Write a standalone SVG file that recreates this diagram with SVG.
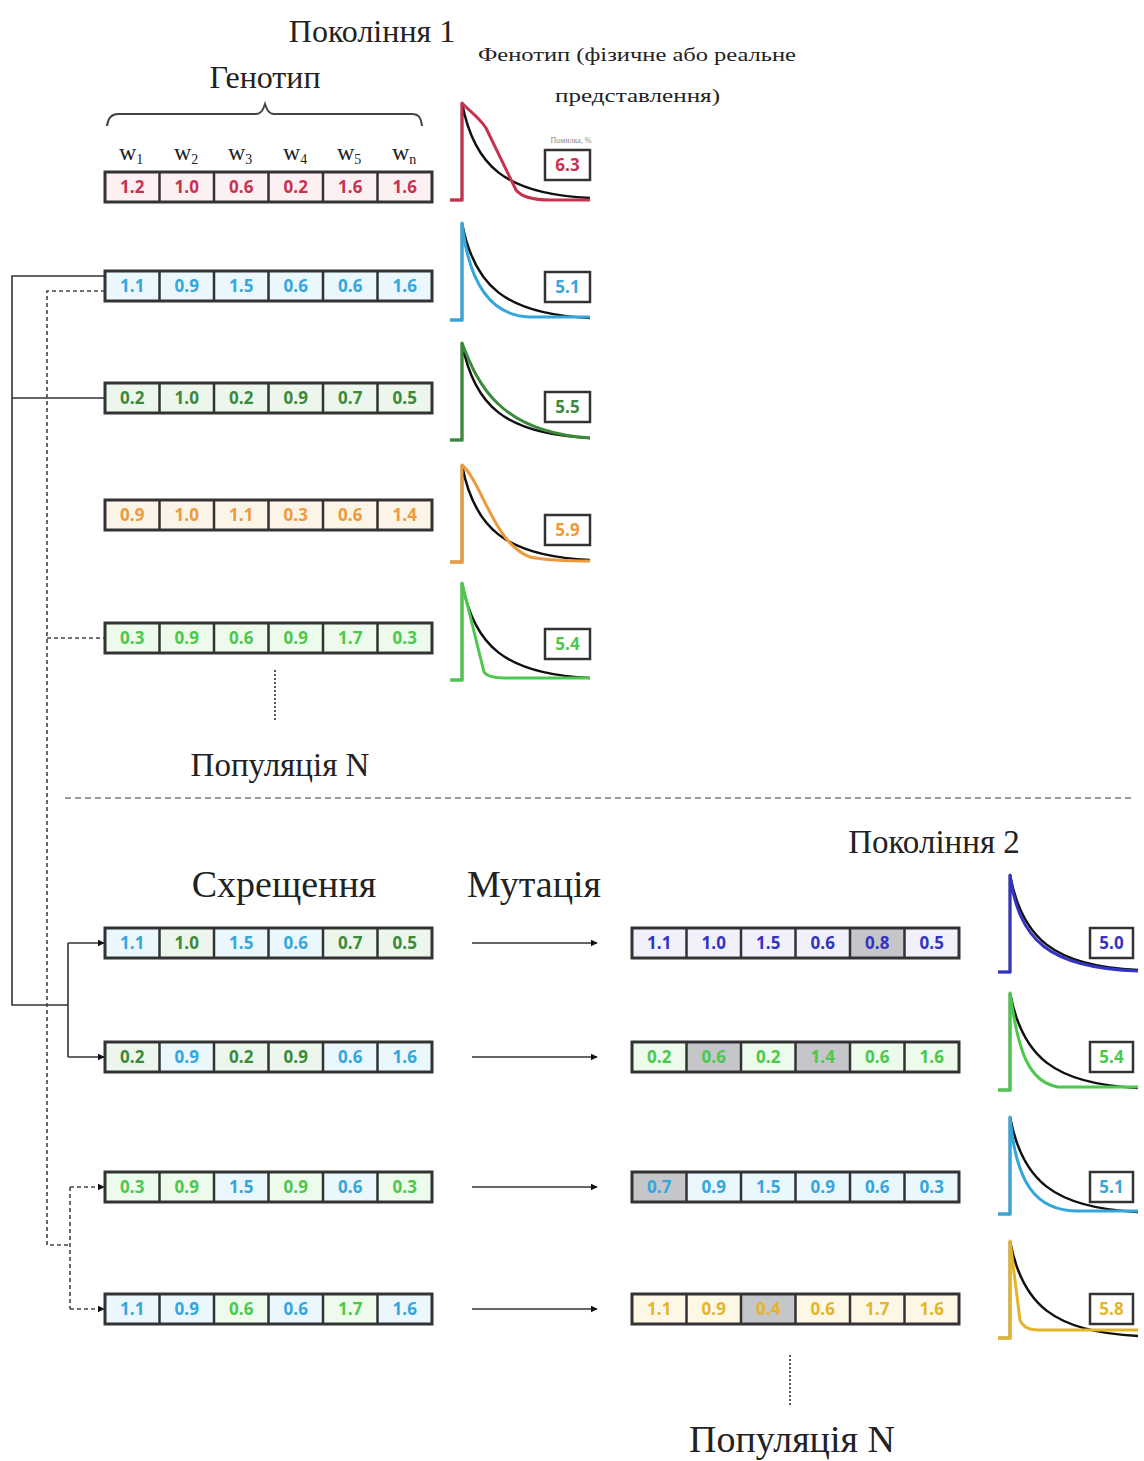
<svg xmlns="http://www.w3.org/2000/svg" xmlns:xlink="http://www.w3.org/1999/xlink" width="1144" height="1461" viewBox="0 0 1144 1461">
<style>
.h{font-family:"Liberation Serif","DejaVu Serif",serif;fill:#222}
.v{font-family:"Open Sans","Liberation Sans",sans-serif;font-weight:700;font-size:17px;text-anchor:middle}
.red{fill:#c8324f}.bred{fill:#fdf0f2}
.blu{fill:#35a6dc}.bblu{fill:#eaf7fd}
.dg{fill:#3b8a3b}.bdg{fill:#edf6ec}
.or{fill:#ec9a3c}.bor{fill:#fdf4e8}
.lg{fill:#4cc84c}.blg{fill:#edfbed}
.nv{fill:#3434c0}.bnv{fill:#f1f1fc}
.gd{fill:#e4b42a}.bgd{fill:#fdf8e6}
.mut{fill:#c4c6c9}
.fr{fill:none;stroke:#333;stroke-width:3}
.dv{fill:none;stroke:#333;stroke-width:2.5}
.eb{fill:#fff;stroke:#333;stroke-width:2.5}
.ref{fill:none;stroke:#111;stroke-width:2.5}
.cv{fill:none;stroke-width:3;stroke-linejoin:round}
.sol{fill:none;stroke:#333;stroke-width:1.6}
.dsh{fill:none;stroke:#444;stroke-width:1.6;stroke-dasharray:4 3}
.dot{fill:none;stroke:#555;stroke-width:2;stroke-dasharray:2 2}
</style>
<defs>
<g id="frame"><rect class="fr" x="0" y="0" width="327" height="30"/><path class="dv" d="M54.5,0V30M109,0V30M163.5,0V30M218,0V30M272.5,0V30"/></g>
<path id="refc" class="ref" d="M0,0H12V-97C24,-34 55,-6 140,-2"/>
<marker id="ah" viewBox="0 0 10 10" refX="9" refY="5" markerWidth="7" markerHeight="7" orient="auto" markerUnits="userSpaceOnUse"><path d="M0,0L10,5L0,10z" fill="#111"/></marker>
</defs>

<!-- headings -->
<text class="h" x="372" y="42" font-size="32" text-anchor="middle">Покоління 1</text>
<text class="h" x="478" y="61" font-size="18" textLength="318" lengthAdjust="spacingAndGlyphs">Фенотип (фізичне або реальне</text>
<text class="h" x="555" y="102" font-size="18" textLength="165" lengthAdjust="spacingAndGlyphs">представлення)</text>
<text class="h" x="265" y="88" font-size="32" text-anchor="middle">Генотип</text>
<path d="M107,126C108,118 111,114 118,114H256C261,114 263,110 265,104C267,110 269,114 274,114H412C419,114 421,118 422,126" fill="none" stroke="#444" stroke-width="2"/>
<g class="h" font-size="24">
<text x="119" y="160">w<tspan font-size="14" dy="4">1</tspan></text>
<text x="174" y="160">w<tspan font-size="14" dy="4">2</tspan></text>
<text x="228" y="160">w<tspan font-size="14" dy="4">3</tspan></text>
<text x="283" y="160">w<tspan font-size="14" dy="4">4</tspan></text>
<text x="337" y="160">w<tspan font-size="14" dy="4">5</tspan></text>
<text x="392" y="160">w<tspan font-size="14" dy="4">n</tspan></text>
</g>
<text x="571" y="143" font-size="8" text-anchor="middle" font-family="Liberation Serif,serif" fill="#888">Помилка, %</text>

<!-- Generation 1 -->
<g id="g1r1" transform="translate(105,172)">
<rect class="bred" width="327" height="30"/>
<g class="v red"><text x="27.25" y="21">1.2</text><text x="81.75" y="21">1.0</text><text x="136.25" y="21">0.6</text><text x="190.75" y="21">0.2</text><text x="245.25" y="21">1.6</text><text x="299.75" y="21">1.6</text></g>
<use href="#frame"/>
</g>
<g id="g1r2" transform="translate(105,271)">
<rect class="bblu" width="327" height="30"/>
<g class="v blu"><text x="27.25" y="21">1.1</text><text x="81.75" y="21">0.9</text><text x="136.25" y="21">1.5</text><text x="190.75" y="21">0.6</text><text x="245.25" y="21">0.6</text><text x="299.75" y="21">1.6</text></g>
<use href="#frame"/>
</g>
<g id="g1r3" transform="translate(105,383)">
<rect class="bdg" width="327" height="30"/>
<g class="v dg"><text x="27.25" y="21">0.2</text><text x="81.75" y="21">1.0</text><text x="136.25" y="21">0.2</text><text x="190.75" y="21">0.9</text><text x="245.25" y="21">0.7</text><text x="299.75" y="21">0.5</text></g>
<use href="#frame"/>
</g>
<g id="g1r4" transform="translate(105,500)">
<rect class="bor" width="327" height="30"/>
<g class="v or"><text x="27.25" y="21">0.9</text><text x="81.75" y="21">1.0</text><text x="136.25" y="21">1.1</text><text x="190.75" y="21">0.3</text><text x="245.25" y="21">0.6</text><text x="299.75" y="21">1.4</text></g>
<use href="#frame"/>
</g>
<g id="g1r5" transform="translate(105,623)">
<rect class="blg" width="327" height="30"/>
<g class="v lg"><text x="27.25" y="21">0.3</text><text x="81.75" y="21">0.9</text><text x="136.25" y="21">0.6</text><text x="190.75" y="21">0.9</text><text x="245.25" y="21">1.7</text><text x="299.75" y="21">0.3</text></g>
<use href="#frame"/>
</g>

<!-- phenotype curves gen 1 -->
<g id="c1" transform="translate(450,200)"><use href="#refc"/><path class="cv" stroke="#c8324f" d="M0,0H12V-97C20,-88 28,-84 36,-72L66,-10Q74,0 100,0H140"/></g>
<g id="c2" transform="translate(450,320)"><use href="#refc"/><path class="cv" stroke="#35a6dc" d="M0,0H12V-97C19,-35 42,-4 80,-3H140"/></g>
<g id="c3" transform="translate(450,440)"><use href="#refc"/><path class="cv" stroke="#3b8a3b" d="M0,0H12V-97C28,-55 50,-8 140,-2"/></g>
<g id="c4" transform="translate(450,562)"><use href="#refc"/><path class="cv" stroke="#ec9a3c" d="M0,0H12V-97C32,-80 44,-18 80,-5C100,-1 120,-1 140,-1"/></g>
<g id="c5" transform="translate(450,680)"><use href="#refc"/><path class="cv" stroke="#4cc84c" d="M0,0H12V-97L34,-8Q38,-2 55,-2H140"/></g>

<!-- error boxes gen 1 -->
<g id="e1"><rect class="eb" x="545" y="150" width="45" height="30"/><text class="v red" x="567.5" y="171">6.3</text></g>
<g id="e2"><rect class="eb" x="545" y="272" width="45" height="30"/><text class="v blu" x="567.5" y="293">5.1</text></g>
<g id="e3"><rect class="eb" x="545" y="392" width="45" height="30"/><text class="v dg" x="567.5" y="413">5.5</text></g>
<g id="e4"><rect class="eb" x="545" y="515" width="45" height="30"/><text class="v or" x="567.5" y="536">5.9</text></g>
<g id="e5"><rect class="eb" x="545" y="629" width="45" height="30"/><text class="v lg" x="567.5" y="650">5.4</text></g>

<path class="dot" d="M275,670V720"/>
<text class="h" x="280" y="776" font-size="33" text-anchor="middle">Популяція N</text>
<path d="M65,798H1135" stroke="#9a9a9a" stroke-width="2" stroke-dasharray="6 4"/>

<!-- Generation 2 headings -->
<text class="h" x="934" y="853" font-size="33" text-anchor="middle">Покоління 2</text>
<text class="h" x="284" y="897" font-size="38" text-anchor="middle">Схрещення</text>
<text class="h" x="534" y="897" font-size="38" text-anchor="middle">Мутація</text>

<!-- crossover children -->
<g id="x1" transform="translate(105,928)">
<rect class="bblu" x="0" width="54.5" height="30"/><rect class="bdg" x="54.5" width="54.5" height="30"/><rect class="bblu" x="109" width="109" height="30"/><rect class="bdg" x="218" width="109" height="30"/>
<g class="v"><text class="blu" x="27.25" y="21">1.1</text><text class="dg" x="81.75" y="21">1.0</text><text class="blu" x="136.25" y="21">1.5</text><text class="blu" x="190.75" y="21">0.6</text><text class="dg" x="245.25" y="21">0.7</text><text class="dg" x="299.75" y="21">0.5</text></g>
<use href="#frame"/>
</g>
<g id="x2" transform="translate(105,1042)">
<rect class="bdg" x="0" width="54.5" height="30"/><rect class="bblu" x="54.5" width="54.5" height="30"/><rect class="bdg" x="109" width="109" height="30"/><rect class="bblu" x="218" width="109" height="30"/>
<g class="v"><text class="dg" x="27.25" y="21">0.2</text><text class="blu" x="81.75" y="21">0.9</text><text class="dg" x="136.25" y="21">0.2</text><text class="dg" x="190.75" y="21">0.9</text><text class="blu" x="245.25" y="21">0.6</text><text class="blu" x="299.75" y="21">1.6</text></g>
<use href="#frame"/>
</g>
<g id="x3" transform="translate(105,1172)">
<rect class="blg" x="0" width="109" height="30"/><rect class="bblu" x="109" width="54.5" height="30"/><rect class="blg" x="163.5" width="54.5" height="30"/><rect class="bblu" x="218" width="54.5" height="30"/><rect class="blg" x="272.5" width="54.5" height="30"/>
<g class="v"><text class="lg" x="27.25" y="21">0.3</text><text class="lg" x="81.75" y="21">0.9</text><text class="blu" x="136.25" y="21">1.5</text><text class="lg" x="190.75" y="21">0.9</text><text class="blu" x="245.25" y="21">0.6</text><text class="lg" x="299.75" y="21">0.3</text></g>
<use href="#frame"/>
</g>
<g id="x4" transform="translate(105,1294)">
<rect class="bblu" x="0" width="109" height="30"/><rect class="blg" x="109" width="54.5" height="30"/><rect class="bblu" x="163.5" width="54.5" height="30"/><rect class="blg" x="218" width="54.5" height="30"/><rect class="bblu" x="272.5" width="54.5" height="30"/>
<g class="v"><text class="blu" x="27.25" y="21">1.1</text><text class="blu" x="81.75" y="21">0.9</text><text class="lg" x="136.25" y="21">0.6</text><text class="blu" x="190.75" y="21">0.6</text><text class="lg" x="245.25" y="21">1.7</text><text class="blu" x="299.75" y="21">1.6</text></g>
<use href="#frame"/>
</g>

<!-- mutated children -->
<g id="m1" transform="translate(632,928)">
<rect class="bnv" width="327" height="30"/><rect class="mut" x="218" width="54.5" height="30"/>
<g class="v nv"><text x="27.25" y="21">1.1</text><text x="81.75" y="21">1.0</text><text x="136.25" y="21">1.5</text><text x="190.75" y="21">0.6</text><text x="245.25" y="21">0.8</text><text x="299.75" y="21">0.5</text></g>
<use href="#frame"/>
</g>
<g id="m2" transform="translate(632,1042)">
<rect class="blg" width="327" height="30"/><rect class="mut" x="54.5" width="54.5" height="30"/><rect class="mut" x="163.5" width="54.5" height="30"/>
<g class="v lg"><text x="27.25" y="21">0.2</text><text x="81.75" y="21">0.6</text><text x="136.25" y="21">0.2</text><text x="190.75" y="21">1.4</text><text x="245.25" y="21">0.6</text><text x="299.75" y="21">1.6</text></g>
<use href="#frame"/>
</g>
<g id="m3" transform="translate(632,1172)">
<rect class="bblu" width="327" height="30"/><rect class="mut" x="0" width="54.5" height="30"/>
<g class="v blu"><text x="27.25" y="21">0.7</text><text x="81.75" y="21">0.9</text><text x="136.25" y="21">1.5</text><text x="190.75" y="21">0.9</text><text x="245.25" y="21">0.6</text><text x="299.75" y="21">0.3</text></g>
<use href="#frame"/>
</g>
<g id="m4" transform="translate(632,1294)">
<rect class="bgd" width="327" height="30"/><rect class="mut" x="109" width="54.5" height="30"/>
<g class="v gd"><text x="27.25" y="21">1.1</text><text x="81.75" y="21">0.9</text><text x="136.25" y="21">0.4</text><text x="190.75" y="21">0.6</text><text x="245.25" y="21">1.7</text><text x="299.75" y="21">1.6</text></g>
<use href="#frame"/>
</g>

<!-- phenotype curves gen 2 -->
<g id="c6" transform="translate(998,972)"><use href="#refc"/><path class="cv" stroke="#3434c0" d="M0,0H12V-97C21,-32 50,-4 140,-1"/></g>
<g id="c7" transform="translate(998,1090)"><use href="#refc"/><path class="cv" stroke="#4cc84c" d="M0,0H12V-97C20,-40 30,-8 60,-3H140"/></g>
<g id="c8" transform="translate(998,1214)"><use href="#refc"/><path class="cv" stroke="#35a6dc" d="M0,0H12V-97C18,-30 38,-3 80,-3H140"/></g>
<g id="c9" transform="translate(998,1338)"><use href="#refc"/><path class="cv" stroke="#e4b42a" d="M0,0H12V-97L22,-18Q26,-8 40,-8H140"/></g>

<!-- error boxes gen 2 -->
<g id="e6"><rect class="eb" x="1090" y="928" width="43" height="30"/><text class="v nv" x="1111.5" y="949">5.0</text></g>
<g id="e7"><rect class="eb" x="1090" y="1042" width="43" height="30"/><text class="v lg" x="1111.5" y="1063">5.4</text></g>
<g id="e8"><rect class="eb" x="1090" y="1172" width="43" height="30"/><text class="v blu" x="1111.5" y="1193">5.1</text></g>
<g id="e9"><rect class="eb" x="1090" y="1294" width="43" height="30"/><text class="v gd" x="1111.5" y="1315">5.8</text></g>

<path class="dot" d="M790,1355V1405"/>
<text class="h" x="792" y="1452" font-size="38" text-anchor="middle">Популяція N</text>

<!-- connectors -->
<g id="connectors">
<path class="sol" d="M105,276H12V1005H68M12,398H105"/>
<path class="sol" d="M68,943V1057" />
<path class="sol" d="M68,943H104" marker-end="url(#ah)"/>
<path class="sol" d="M68,1057H104" marker-end="url(#ah)"/>
<path class="dsh" d="M105,291H47V1245H70M47,638H105"/>
<path class="dsh" d="M70,1187V1309"/>
<path class="dsh" d="M70,1187H104" marker-end="url(#ah)"/>
<path class="dsh" d="M70,1309H104" marker-end="url(#ah)"/>
<path class="sol" d="M472,943H597" marker-end="url(#ah)"/>
<path class="sol" d="M472,1057H597" marker-end="url(#ah)"/>
<path class="sol" d="M472,1187H597" marker-end="url(#ah)"/>
<path class="sol" d="M472,1309H597" marker-end="url(#ah)"/>
</g>
</svg>
